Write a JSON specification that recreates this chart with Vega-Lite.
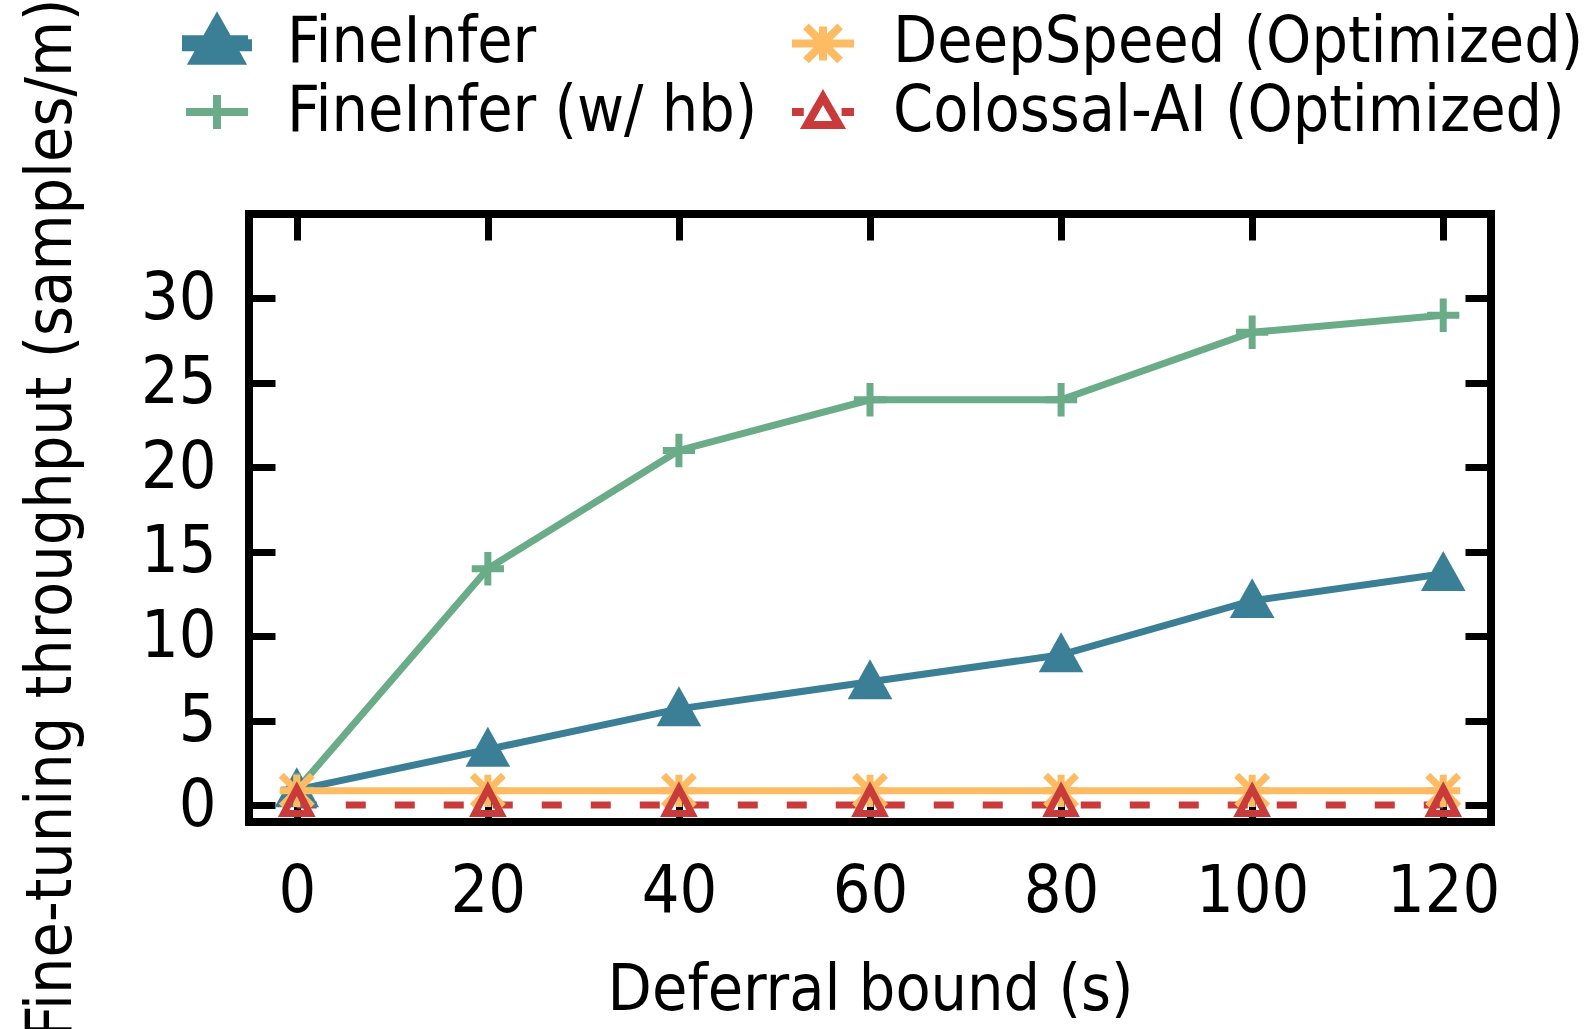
{
  "$schema": "https://vega.github.io/schema/vega-lite/v6.json",
  "autosize": {"type": "none"},
  "width": 1242,
  "height": 608,
  "padding": {"left": 249, "top": 214, "right": 102, "bottom": 207},
  "background": "white",
  "config": {
    "font": "DejaVu Sans Condensed",
    "view": {"stroke": "black", "strokeWidth": 8},
    "axis": {
      "domain": false,
      "grid": false,
      "ticks": true,
      "tickColor": "black",
      "tickWidth": 7,
      "tickSize": -26,
      "labelFont": "DejaVu Sans Condensed",
      "labelFontSize": 66,
      "labelColor": "black",
      "titleFont": "DejaVu Sans Condensed",
      "titleFontSize": 64,
      "titleFontWeight": "normal",
      "titleColor": "black"
    }
  },
  "data": {
    "values": [
      {"x": 0, "y": 0.9, "s": "FineInfer"},
      {"x": 20, "y": 3.3, "s": "FineInfer"},
      {"x": 40, "y": 5.7, "s": "FineInfer"},
      {"x": 60, "y": 7.3, "s": "FineInfer"},
      {"x": 80, "y": 8.9, "s": "FineInfer"},
      {"x": 100, "y": 12.1, "s": "FineInfer"},
      {"x": 120, "y": 13.7, "s": "FineInfer"},
      {"x": 0, "y": 0.9, "s": "FineInfer (w/ hb)"},
      {"x": 20, "y": 14.0, "s": "FineInfer (w/ hb)"},
      {"x": 40, "y": 21.0, "s": "FineInfer (w/ hb)"},
      {"x": 60, "y": 24.0, "s": "FineInfer (w/ hb)"},
      {"x": 80, "y": 24.0, "s": "FineInfer (w/ hb)"},
      {"x": 100, "y": 28.0, "s": "FineInfer (w/ hb)"},
      {"x": 120, "y": 29.0, "s": "FineInfer (w/ hb)"},
      {"x": 0, "y": 0.85, "s": "DeepSpeed (Optimized)"},
      {"x": 20, "y": 0.85, "s": "DeepSpeed (Optimized)"},
      {"x": 40, "y": 0.85, "s": "DeepSpeed (Optimized)"},
      {"x": 60, "y": 0.85, "s": "DeepSpeed (Optimized)"},
      {"x": 80, "y": 0.85, "s": "DeepSpeed (Optimized)"},
      {"x": 100, "y": 0.85, "s": "DeepSpeed (Optimized)"},
      {"x": 120, "y": 0.85, "s": "DeepSpeed (Optimized)"},
      {"x": 0, "y": 0, "s": "Colossal-AI (Optimized)"},
      {"x": 20, "y": 0, "s": "Colossal-AI (Optimized)"},
      {"x": 40, "y": 0, "s": "Colossal-AI (Optimized)"},
      {"x": 60, "y": 0, "s": "Colossal-AI (Optimized)"},
      {"x": 80, "y": 0, "s": "Colossal-AI (Optimized)"},
      {"x": 100, "y": 0, "s": "Colossal-AI (Optimized)"},
      {"x": 120, "y": 0, "s": "Colossal-AI (Optimized)"}
    ]
  },
  "layer": [
    {
      "transform": [{"filter": "datum.s !== 'Colossal-AI (Optimized)'"}],
      "mark": {"type": "line", "strokeWidth": 7, "strokeCap": "butt", "strokeJoin": "miter"},
      "encoding": {
        "x": {
          "field": "x", "type": "quantitative",
          "scale": {"domain": [-5, 125], "nice": false, "zero": false},
          "axis": {
            "orient": "bottom",
            "values": [0, 20, 40, 60, 80, 100, 120],
            "labelPadding": 63,
            "labelBaseline": "top",
            "title": "Deferral bound (s)",
            "titleY": 187,
            "titleBaseline": "alphabetic"
          }
        },
        "y": {
          "field": "y", "type": "quantitative",
          "scale": {"domain": [-1, 35], "nice": false, "zero": false},
          "axis": {
            "orient": "left",
            "values": [0, 5, 10, 15, 20, 25, 30],
            "labelPadding": 59,
            "title": "Fine-tuning throughput (samples/m)",
            "titleAngle": -90,
            "titleX": -179,
            "titleY": 304,
            "titleAlign": "center",
            "titleBaseline": "alphabetic"
          }
        },
        "color": {
          "field": "s", "type": "nominal",
          "scale": {
            "domain": ["FineInfer", "FineInfer (w/ hb)", "DeepSpeed (Optimized)", "Colossal-AI (Optimized)"],
            "range": ["#3b7f97", "#6aab88", "#fdbb63", "#c93a3a"]
          },
          "legend": {
            "orient": "none",
            "legendX": -67,
            "legendY": -206,
            "columns": 2,
            "columnPadding": 18,
            "rowPadding": -1,
            "padding": 0,
            "title": null,
            "labelFont": "DejaVu Sans Condensed",
            "labelFontSize": 64,
            "labelColor": "black",
            "labelLimit": 2000,
            "labelOffset": 35,
            "symbolSize": 3844,
            "symbolStrokeWidth": 8,
            "encode": {
              "symbols": {
                "update": {
                  "shape": {"signal": "datum.value === 'FineInfer' ? 'M-1,-0.13H1V0.13H-1ZM0,-0.77L0.75,0.56L-0.75,0.56Z' : datum.value === 'FineInfer (w/ hb)' ? 'M-1,0H1M0,-0.55V0.55' : datum.value === 'DeepSpeed (Optimized)' ? 'M-1,0H1M0,-0.55V0.55M-0.55,-0.55L0.55,0.55M-0.55,0.55L0.55,-0.55' : 'M-1,0H-0.62M0.6,0H1M0,-0.48L0.52,0.42L-0.52,0.42Z'"},
                  "fill": {"signal": "datum.value === 'FineInfer' ? '#3b7f97' : 'transparent'"},
                  "stroke": {"signal": "datum.value === 'FineInfer' ? 'transparent' : datum.value === 'FineInfer (w/ hb)' ? '#6aab88' : datum.value === 'DeepSpeed (Optimized)' ? '#fdbb63' : '#c93a3a'"},
                  "strokeWidth": {"value": 8},
                  "strokeDash": {"value": [1, 0]},
                  "size": {"value": 3844},
                  "opacity": {"value": 1}
                }
              }
            }
          }
        }
      }
    },
    {
      "transform": [{"filter": "datum.s === 'Colossal-AI (Optimized)'"}],
      "mark": {"type": "line", "strokeWidth": 7, "strokeCap": "butt", "strokeDash": [20, 29]},
      "encoding": {
        "x": {"field": "x", "type": "quantitative", "scale": {"domain": [-5, 125], "nice": false, "zero": false}, "axis": null},
        "y": {"field": "y", "type": "quantitative", "scale": {"domain": [-1, 35], "nice": false, "zero": false}, "axis": null},
        "color": {
          "field": "s", "type": "nominal",
          "scale": {
            "domain": ["FineInfer", "FineInfer (w/ hb)", "DeepSpeed (Optimized)", "Colossal-AI (Optimized)"],
            "range": ["#3b7f97", "#6aab88", "#fdbb63", "#c93a3a"]
          }
        }
      }
    },
    {
      "transform": [{"filter": "datum.s === 'FineInfer'"}],
      "mark": {"type": "point", "shape": "M0,-0.73L0.72,0.56L-0.72,0.56Z", "size": 3844, "filled": true, "fill": "#3b7f97", "strokeWidth": 0, "opacity": 1},
      "encoding": {
        "x": {
          "field": "x", "type": "quantitative",
          "scale": {"domain": [-5, 125], "nice": false, "zero": false},
          "axis": {"orient": "top", "values": [0, 20, 40, 60, 80, 100, 120], "labels": false, "title": null}
        },
        "y": {
          "field": "y", "type": "quantitative",
          "scale": {"domain": [-1, 35], "nice": false, "zero": false},
          "axis": {"orient": "right", "values": [0, 5, 10, 15, 20, 25, 30], "labels": false, "title": null}
        }
      }
    },
    {
      "transform": [{"filter": "datum.s === 'FineInfer (w/ hb)'"}],
      "mark": {"type": "point", "shape": "M-0.52,0H0.52M0,-0.54V0.54", "size": 3844, "filled": false, "fill": "transparent", "stroke": "#6aab88", "strokeWidth": 7, "strokeCap": "butt", "opacity": 1},
      "encoding": {
        "x": {"field": "x", "type": "quantitative", "scale": {"domain": [-5, 125], "nice": false, "zero": false}, "axis": null},
        "y": {"field": "y", "type": "quantitative", "scale": {"domain": [-1, 35], "nice": false, "zero": false}, "axis": null}
      }
    },
    {
      "transform": [{"filter": "datum.s === 'DeepSpeed (Optimized)'"}],
      "mark": {"type": "point", "shape": "M-0.55,0H0.55M0,-0.52V0.52M-0.5,-0.5L0.5,0.5M-0.5,0.5L0.5,-0.5", "size": 3844, "filled": false, "fill": "transparent", "stroke": "#fdbb63", "strokeWidth": 7, "strokeCap": "butt", "opacity": 1},
      "encoding": {
        "x": {"field": "x", "type": "quantitative", "scale": {"domain": [-5, 125], "nice": false, "zero": false}, "axis": null},
        "y": {"field": "y", "type": "quantitative", "scale": {"domain": [-1, 35], "nice": false, "zero": false}, "axis": null}
      }
    },
    {
      "transform": [{"filter": "datum.s === 'Colossal-AI (Optimized)'"}],
      "mark": {"type": "point", "shape": "M0,-0.53L0.42,0.27L-0.42,0.27Z", "size": 3844, "filled": false, "fill": "transparent", "stroke": "#c93a3a", "strokeWidth": 7, "strokeJoin": "miter", "opacity": 1},
      "encoding": {
        "x": {"field": "x", "type": "quantitative", "scale": {"domain": [-5, 125], "nice": false, "zero": false}, "axis": null},
        "y": {"field": "y", "type": "quantitative", "scale": {"domain": [-1, 35], "nice": false, "zero": false}, "axis": null}
      }
    }
  ],
  "resolve": {"axis": {"x": "independent", "y": "independent"}}
}
